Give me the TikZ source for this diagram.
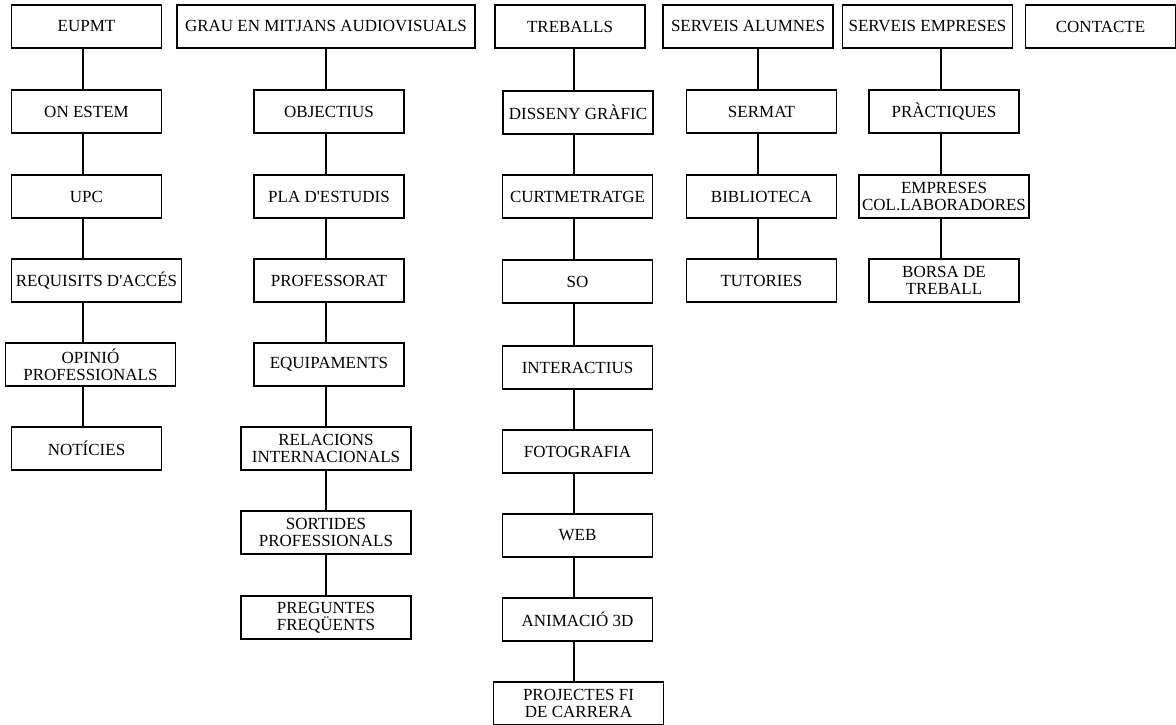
\documentclass[tikz,border=0pt]{standalone}
\usepackage{fontspec}
\setmainfont{Liberation Serif}[Ligatures=TeXOff]
\usetikzlibrary{positioning}
\newcommand\apos{'}
\tikzset{
  box/.style={draw,line width=0.9pt,minimum width=112.5pt,minimum height=32.25pt,inner sep=1pt,align=center,font=\fontsize{12.75}{12.5}\selectfont},
  widebox/.style={box,minimum width=127.5pt},
  link/.style={line width=0.9pt}
}

\begin{document}
\begin{tikzpicture}[x=0.75pt,y=-0.75pt]
\useasboundingbox (0,0) rectangle (1176,724);
% menu
\node[box] (eupmt) at (86.5,26.5) {EUPMT};
\node[box,minimum width=223.5pt] (grau) at (326,26.5) {GRAU EN MITJANS AUDIOVISUALS};
\node[box] (treballs) at (570,26.5) {TREBALLS};
\node[widebox] (alumnes) at (748,26.5) {SERVEIS ALUMNES};
\node[widebox] (empreses) at (927.5,26.5) {SERVEIS EMPRESES};
\node[box] (contacte) at (1100.5,26.5) {CONTACTE};
% EUPMT
\node[box] (onestem) at (86.5,111.5) {ON ESTEM};
\node[box] (upc) at (86.5,196.5) {UPC};
\node[widebox] (requisits) at (96.5,280.5) {REQUISITS D\apos ACCÉS};
\node[widebox] (opinio) at (90.5,364.5) {OPINIÓ\\PROFESSIONALS};
\node[box] (noticies) at (86.5,448.5) {NOTÍCIES};
% grau
\node[box] (objectius) at (329,111.5) {OBJECTIUS};
\node[box] (pla) at (329,196.5) {PLA D\apos ESTUDIS};
\node[box] (professorat) at (329,280.5) {PROFESSORAT};
\node[box] (equipaments) at (329,364.5) {EQUIPAMENTS};
\node[widebox] (relacions) at (326,448.5) {RELACIONS\\INTERNACIONALS};
\node[widebox] (sortides) at (326,532.5) {SORTIDES\\PROFESSIONALS};
\node[widebox] (preguntes) at (326,617.5) {PREGUNTES\\FREQÜENTS};
% treballs
\node[box] (disseny) at (578,112.5) {DISSENY GRÀFIC};
\node[box] (curt) at (577.5,196.5) {CURTMETRATGE};
\node[box] (so) at (577.5,281.5) {SO};
\node[box] (interactius) at (577.5,367.5) {INTERACTIUS};
\node[box] (foto) at (577.5,451.5) {FOTOGRAFIA};
\node[box] (web) at (577.5,535.5) {WEB};
\node[box] (animacio) at (577.5,619.5) {ANIMACIÓ 3D};
\node[widebox] (projectes) at (578.5,703.5) {PROJECTES FI\\DE CARRERA};
% serveis alumnes
\node[box] (sermat) at (761.5,111.5) {SERMAT};
\node[box] (biblioteca) at (761.5,196.5) {BIBLIOTECA};
\node[box] (tutories) at (761.5,280.5) {TUTORIES};
% serveis empreses
\node[box] (practiques) at (944,111.5) {PRÀCTIQUES};
\node[widebox] (collab) at (944,196.5) {EMPRESES\\COL.LABORADORES};
\node[box] (borsa) at (944,280.5) {BORSA DE\\TREBALL};
% connectors
\coordinate (c1) at (83,0);
\coordinate (c2) at (326,0);
\coordinate (c3) at (574,0);
\coordinate (c4) at (758,0);
\coordinate (c5) at (941,0);
\foreach \a/\b in {eupmt/onestem,onestem/upc,upc/requisits,requisits/opinio,opinio/noticies}
  \draw[link] (\a.south -| c1) -- (\b.north -| c1);
\foreach \a/\b in {grau/objectius,objectius/pla,pla/professorat,professorat/equipaments,equipaments/relacions,relacions/sortides,sortides/preguntes}
  \draw[link] (\a.south -| c2) -- (\b.north -| c2);
\foreach \a/\b in {treballs/disseny,disseny/curt,curt/so,so/interactius,interactius/foto,foto/web,web/animacio,animacio/projectes}
  \draw[link] (\a.south -| c3) -- (\b.north -| c3);
\foreach \a/\b in {alumnes/sermat,sermat/biblioteca,biblioteca/tutories}
  \draw[link] (\a.south -| c4) -- (\b.north -| c4);
\foreach \a/\b in {empreses/practiques,practiques/collab,collab/borsa}
  \draw[link] (\a.south -| c5) -- (\b.north -| c5);
\end{tikzpicture}
\end{document}
